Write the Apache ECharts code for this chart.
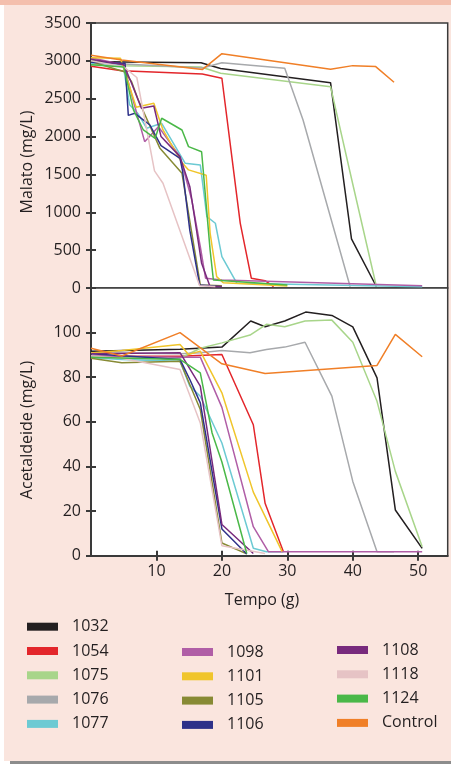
<!DOCTYPE html>
<html><head><meta charset="utf-8">
<script src="https://cdn.jsdelivr.net/npm/echarts@6/dist/echarts.min.js"></script>
<style>html,body{margin:0;padding:0;background:#fff}#c{width:451px;height:764px}</style>
</head><body><div id="c"></div>
<script>
const strains = ['1032','1054','1075','1076','1077','1098','1101','1105','1106','1108','1118','1124','Control'];
const legendCol1 = ['1032','1054','1075','1076','1077'];
const legendCol2 = ['1098','1101','1105','1106'];
const legendCol3 = ['1108','1118','1124','Control'];
const xTicks = [10,20,30,40,50];
const yTicksMalato = [0,500,1000,1500,2000,2500,3000,3500];
const yTicksAcet = [0,20,40,60,80,100];

// Malato (mg/L): [tempo (g), value]
const malato_1032 = [[0,2990],[5,2985],[16.8,2975],[19.8,2900],[36.6,2712],[39.8,650],[43.6,20]];
const malato_1054 = [[0,2930],[4.7,2870],[17,2827],[20,2770],[22.8,858],[24.5,128],[26.6,96],[27.9,17]];
const malato_1075 = [[0,2950],[5,2935],[16.8,2920],[19.8,2836],[36.6,2659],[40,1370],[43.6,20]];
const malato_1076 = [[0,2975],[5,2960],[17,2905],[20,2976],[29.6,2902],[32.4,2219],[39.6,17]];
const malato_1077 = [[0,2970],[4.9,2946],[5.9,2420],[7.2,2300],[8.5,2110],[10.8,2175],[14.4,1647],[16.7,1625],[17.7,942],[19,855],[20,414],[22.3,62],[50.6,17]];
const malato_1098 = [[0,3040],[5,2950],[6.5,2460],[8.2,1933],[10.3,2131],[13.6,1735],[15.4,1162],[16.7,546],[17.5,130],[20,106],[50.6,30]];
const malato_1101 = [[0,3040],[4.5,3034],[6.9,2387],[9.6,2440],[11,2087],[13.8,1669],[14.9,1560],[17.6,1490],[18.2,726],[19.2,150],[20.2,70],[30,25]];
const malato_1105 = [[0,2990],[5.1,2857],[6.2,2725],[7.2,2490],[10.5,1850],[13.9,1515],[16.7,40],[20,30]];
const malato_1106 = [[0,2980],[5.2,2968],[5.7,2280],[6.7,2307],[9,2153],[10.7,1880],[13.6,1713],[14,1540],[15.1,760],[16.6,40],[19.7,20]];
const malato_1108 = [[0,3020],[5,2950],[6.2,2704],[7.7,2374],[9.6,2404],[10.7,2000],[13.6,1735],[15.1,1338],[16.9,326],[18.2,17],[20,20]];
const malato_1118 = [[0,3000],[5,2920],[7,2780],[9.7,1546],[11,1383],[16.6,30],[19,20]];
const malato_1124 = [[0,2950],[5,2920],[6.5,2350],[8,2087],[9.8,1977],[10.8,2242],[13.9,2087],[14.9,1867],[16.9,1800],[18.2,500],[18.7,106],[30,40]];
const malato_Control = [[0,3075],[4.7,3010],[17,2885],[20,3095],[36.6,2889],[40,2937],[43.5,2924],[46.3,2717]];

// Acetaldeide (mg/L): [tempo (g), value]
const acet_1032 = [[0,91.7],[13.6,92.5],[20,93.5],[24.4,105.2],[26.6,102.6],[29.6,105.2],[32.8,109.2],[36.8,107.7],[40,102.6],[43.7,79.7],[46.5,20.5],[50.6,3.3]];
const acet_1054 = [[0,89.4],[4.7,89.4],[13.6,89.4],[20,90.2],[24.8,58.7],[26.6,23.5],[29.4,1.8]];
const acet_1075 = [[0,89.5],[4.7,88.5],[13.6,88.5],[16.7,93],[20,95.4],[24.3,98.9],[26.8,103.7],[29.6,102.6],[32.7,105.2],[36.8,105.6],[40,95.7],[43.7,69.2],[46.5,37.8],[50.6,4]];
const acet_1076 = [[0,91],[13.6,90.5],[16.7,91],[20,92],[24.3,91],[26.8,92.4],[29.6,93.5],[32.7,95.7],[36.8,71.5],[40,33.3],[43.7,1.8],[46.3,1.8]];
const acet_1077 = [[0,88.7],[4.7,88],[13.6,87.2],[15.1,76],[16.7,71.5],[20,50.5],[24.8,3.3],[26.8,1.8],[29.4,1.8]];
const acet_1098 = [[0,89.5],[13.6,89],[16.7,89],[20,66.5],[24.8,13],[27.1,1.8],[50.6,1.8]];
const acet_1101 = [[0,90.9],[4.7,92],[13.6,94.7],[14.9,90.2],[16.7,91.7],[20,73],[24.8,28.5],[29.2,1.8]];
const acet_1105 = [[0,88.5],[4.7,86.5],[13.6,87.2],[16.7,65.5],[20,5.7],[23.8,0.8]];
const acet_1106 = [[0,90.5],[13.6,88],[15.1,79],[16.7,68.5],[20,12],[23.8,0.8]];
const acet_1108 = [[0,90.5],[13.6,91],[16.7,76],[20,14],[24.8,1]];
const acet_1118 = [[0,89.5],[4.7,88.5],[13.6,83.5],[16.7,59.5],[20,4.5],[26.6,1]];
const acet_1124 = [[0,89],[13.6,88],[16.7,82],[18.5,55],[20,42],[23.8,1]];
const acet_Control = [[0,93],[4.7,89.5],[13.6,100],[20,86],[26.6,81.7],[43.7,85.3],[46.5,99.2],[50.6,89.2]];

const malatoData = {'1032':malato_1032,'1054':malato_1054,'1075':malato_1075,'1076':malato_1076,'1077':malato_1077,'1098':malato_1098,'1101':malato_1101,'1105':malato_1105,'1106':malato_1106,'1108':malato_1108,'1118':malato_1118,'1124':malato_1124,'Control':malato_Control};
const acetData = {'1032':acet_1032,'1054':acet_1054,'1075':acet_1075,'1076':acet_1076,'1077':acet_1077,'1098':acet_1098,'1101':acet_1101,'1105':acet_1105,'1106':acet_1106,'1108':acet_1108,'1118':acet_1118,'1124':acet_1124,'Control':acet_Control};

const colors = {'1032':'#231f20','1054':'#e3262b','1075':'#a8d58a','1076':'#a7a9ac','1077':'#6ccad3','1098':'#b05ea6','1101':'#f0c52b','1105':'#878a34','1106':'#2e3189','1108':'#782a7d','1118':'#e6c3c5','1124':'#4ab848','Control':'#f07f27'};

const FONT = 'Open Sans';
const AX = '#3a3a3a';
const TXT = '#231f20';
const XMAX = 54.5;

const chart = echarts.init(document.getElementById('c'), null, {renderer:'canvas'});

const series = [];
strains.forEach(s => {
  series.push({name:s, type:'line', xAxisIndex:0, yAxisIndex:0, data:malatoData[s], showSymbol:false, symbol:'none',
    lineStyle:{color:colors[s], width:1.5}, itemStyle:{color:colors[s]}, silent:true});
  series.push({name:s, type:'line', xAxisIndex:1, yAxisIndex:1, data:acetData[s], showSymbol:false, symbol:'none',
    lineStyle:{color:colors[s], width:1.5}, itemStyle:{color:colors[s]}, silent:true});
});

const tickStyle = {color:AX, width:2};
const labelStyle = {fontFamily:FONT, fontSize:16, color:TXT, formatter:v => String(v)};

function legend(names, left, top){
  return {data:names, orient:'vertical', left:left, top:top, icon:'rect', itemWidth:31, itemHeight:8,
    itemGap:8.3, selectedMode:false, padding:0,
    textStyle:{fontFamily:FONT, fontSize:16, color:TXT, lineHeight:16, padding:[0,0,0,9]}};
}

chart.setOption({
  animation:false,
  backgroundColor:'#fff',
  graphic:[
    {type:'rect', z:-10, silent:true, shape:{x:4,y:0,width:447,height:761}, style:{fill:'#fae5de'}},
    {type:'rect', z:-9, silent:true, shape:{x:0,y:0,width:451,height:5}, style:{fill:'#f4bfad'}},
    {type:'rect', z:-9, silent:true, shape:{x:10,y:761,width:441,height:3}, style:{fill:'#8c8c8c'}},
    {type:'text', silent:true, x:27, y:162, rotation:Math.PI/2, style:{text:'Malato (mg/L)', fontFamily:FONT, fontSize:16, fill:TXT, align:'center', verticalAlign:'middle'}},
    {type:'text', silent:true, x:27, y:430, rotation:Math.PI/2, style:{text:'Acetaldeide (mg/L)', fontFamily:FONT, fontSize:16, fill:TXT, align:'center', verticalAlign:'middle'}},
    {type:'text', silent:true, x:262, y:600, style:{text:'Tempo (g)', fontFamily:FONT, fontSize:16, fill:TXT, align:'center', verticalAlign:'middle'}}
  ],
  grid:[
    {left:91, top:23, width:356.7, height:265, show:true, backgroundColor:'#fff', borderColor:AX, borderWidth:1.5},
    {left:91, top:288, width:356.7, height:267.7, show:true, backgroundColor:'#fff', borderColor:AX, borderWidth:1.5}
  ],
  legend:[legend(legendCol1,27,618.7), legend(legendCol2,182,644), legend(legendCol3,337,642)],
  xAxis:[
    {gridIndex:0, type:'value', min:0, max:XMAX, show:false},
    {gridIndex:1, type:'value', min:0, max:XMAX, interval:10, position:'bottom',
      axisLine:{show:true, onZero:false, lineStyle:{color:AX, width:2}},
      axisTick:{show:true, inside:false, length:5, lineStyle:tickStyle, customValues:xTicks},
      axisLabel:Object.assign({margin:8, customValues:xTicks}, labelStyle),
      splitLine:{show:false}},
    {gridIndex:1, type:'value', min:0, max:XMAX, interval:10, position:'bottom',
      axisLine:{show:false}, axisLabel:{show:false}, splitLine:{show:false},
      axisTick:{show:true, inside:true, length:5, lineStyle:tickStyle, customValues:xTicks}}
  ],
  yAxis:[
    {gridIndex:0, type:'value', min:0, max:3500, interval:500, position:'left',
      axisLine:{show:true, onZero:false, lineStyle:{color:AX, width:2}},
      axisTick:{show:true, inside:false, length:5, lineStyle:tickStyle, customValues:yTicksMalato},
      axisLabel:Object.assign({margin:10, customValues:yTicksMalato}, labelStyle),
      splitLine:{show:false}},
    {gridIndex:1, type:'value', min:0, max:120, interval:20, position:'left',
      axisLine:{show:true, onZero:false, lineStyle:{color:AX, width:2}},
      axisTick:{show:true, inside:false, length:5, lineStyle:tickStyle, customValues:yTicksAcet},
      axisLabel:Object.assign({margin:10, customValues:yTicksAcet}, labelStyle),
      splitLine:{show:false}},
    {gridIndex:0, type:'value', min:0, max:3500, interval:500, position:'left',
      axisLine:{show:false}, axisLabel:{show:false}, splitLine:{show:false},
      axisTick:{show:true, inside:true, length:5, lineStyle:tickStyle, customValues:yTicksMalato}},
    {gridIndex:1, type:'value', min:0, max:120, interval:20, position:'left',
      axisLine:{show:false}, axisLabel:{show:false}, splitLine:{show:false},
      axisTick:{show:true, inside:true, length:5, lineStyle:tickStyle, customValues:yTicksAcet}}
  ],
  series:series
});
</script>
</body></html>
